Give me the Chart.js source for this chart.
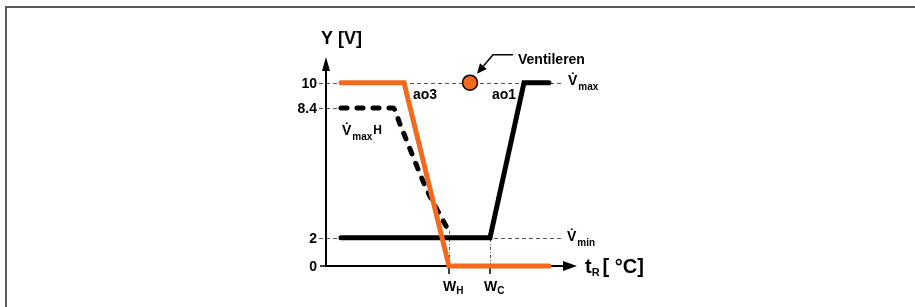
<!DOCTYPE html>
<html>
<head>
<meta charset="utf-8">
<script src="https://cdn.jsdelivr.net/npm/chart.js@4/dist/chart.umd.min.js"></script>
<style>
  html, body { margin: 0; padding: 0; background: #fff; }
  #wrap { position: relative; width: 915px; height: 307px; overflow: hidden; }
  #frame { position: absolute; left: 5px; top: 6px; width: 940px; height: 320px;
           border-top: 2px solid #5a5a5a; border-left: 2px solid #5a5a5a; box-sizing: border-box; }
  canvas { position: absolute; left: 0; top: 0; }
</style>
</head>
<body>
<div id="wrap">
  <div id="frame"></div>
  <canvas id="c" width="915" height="307"></canvas>
</div>
<script>
// ---------- data (schematic units) ----------
const ao3X = [1.5, 7.8, 12.3, 22.3];
const ao3Y = [10, 10, 0, 0];
const vmaxHX = [1.5, 6.7, 7.4, 10.1, 11.2, 12.2];
const vmaxHY = [8.4, 8.4, 7.6, 4.35, 3.3, 2.4];
const ao1X = [1.5, 16.4, 19.8, 22.3];
const ao1Y = [2, 2, 10, 10];
const ventX = [14.4];
const ventY = [10];
const yTickValues = [0, 2, 8.4, 10];
const yTickLabels = ['0', '2', '8.4', '10'];
const xTickValues = [12.3, 16.4];
const xTickMain = ['W', 'W'];
const xTickSub = ['H', 'C'];
const refLineEndX = 23.7;
const seriesNames = ['ao3', 'V\u0307maxH', 'ao1', 'Ventileren'];

// ---------- non-linear (schematic) y scale ----------
const Y_BREAKS = [[0, 0], [2, 0.1354], [8.4, 0.756], [10, 0.877], [11.5, 1]];
function toFrac(v) {
  for (let i = 1; i < Y_BREAKS.length; i++) {
    const [v0, f0] = Y_BREAKS[i - 1], [v1, f1] = Y_BREAKS[i];
    if (v <= v1 || i === Y_BREAKS.length - 1) return f0 + (v - v0) / (v1 - v0) * (f1 - f0);
  }
}
function fromFrac(f) {
  for (let i = 1; i < Y_BREAKS.length; i++) {
    const [v0, f0] = Y_BREAKS[i - 1], [v1, f1] = Y_BREAKS[i];
    if (f <= f1 || i === Y_BREAKS.length - 1) return v0 + (f - f0) / (f1 - f0) * (v1 - v0);
  }
}
class SchematicScale extends Chart.LinearScale {
  getPixelForValue(v) { if (v === null || v === undefined) return NaN; return this.getPixelForDecimal(toFrac(v)); }
  getValueForPixel(p) { return fromFrac(this.getDecimalForPixel(p)); }
}
SchematicScale.id = 'schematic';
SchematicScale.defaults = Chart.LinearScale.defaults;
Chart.register(SchematicScale);

const toPts = (xs, ys) => xs.map((x, i) => ({ x: x, y: ys[i] }));

const ORANGE = '#F26A1B';
const FONT = '"Liberation Sans", Arial, Helvetica, sans-serif';

function txt(ctx, s, x, y, size, align, base) {
  ctx.font = 'bold ' + size + 'px ' + FONT;
  ctx.textAlign = align || 'left';
  ctx.textBaseline = base || 'alphabetic';
  ctx.fillText(s, x, y);
  return x + ctx.measureText(s).width;
}

const decorPlugin = {
  id: 'decor',
  beforeDatasetsDraw(chart) {
    const ctx = chart.ctx, xs = chart.scales.x, ys = chart.scales.y;
    const x0 = xs.getPixelForValue(0), y0 = ys.getPixelForValue(0);
    ctx.save();
    // gray dashed reference lines
    ctx.strokeStyle = '#555';
    ctx.lineWidth = 1;
    ctx.setLineDash([4, 3]);
    const hl = (v, xEnd) => {
      const y = Math.round(ys.getPixelForValue(v)) + 0.5;
      ctx.beginPath(); ctx.moveTo(x0 - 7, y); ctx.lineTo(xs.getPixelForValue(xEnd), y); ctx.stroke();
    };
    hl(10, refLineEndX);
    hl(2, refLineEndX);
    hl(8.4, vmaxHX[0]);
    ctx.setLineDash([3, 2, 1, 2]);
    const vl = (xv, yTop) => {
      const x = Math.round(xs.getPixelForValue(xv)) + 0.5;
      ctx.beginPath(); ctx.moveTo(x, y0); ctx.lineTo(x, ys.getPixelForValue(yTop)); ctx.stroke();
    };
    vl(xTickValues[0], 2.4);
    vl(xTickValues[1], 2);
    ctx.setLineDash([]);
    // axes
    ctx.strokeStyle = '#000';
    ctx.fillStyle = '#000';
    ctx.lineWidth = 2;
    const yTop = chart.chartArea.top, xEnd = chart.chartArea.right + 1;
    ctx.beginPath(); ctx.moveTo(x0, y0 + 1); ctx.lineTo(x0, yTop + 8); ctx.stroke();
    ctx.beginPath(); ctx.moveTo(x0, yTop); ctx.lineTo(x0 - 4, yTop + 14); ctx.lineTo(x0 + 4, yTop + 14); ctx.closePath(); ctx.fill();
    ctx.beginPath(); ctx.moveTo(x0 - 1, y0); ctx.lineTo(xEnd - 8, y0); ctx.stroke();
    ctx.beginPath(); ctx.moveTo(xEnd, y0); ctx.lineTo(xEnd - 14, y0 - 5); ctx.lineTo(xEnd - 14, y0 + 5); ctx.closePath(); ctx.fill();
    // tick marks
    ctx.lineWidth = 1.5;
    ctx.beginPath(); ctx.moveTo(x0 - 6, y0); ctx.lineTo(x0, y0); ctx.stroke();
    xTickValues.forEach(v => {
      const x = xs.getPixelForValue(v);
      ctx.beginPath(); ctx.moveTo(x, y0); ctx.lineTo(x, y0 + 8); ctx.stroke();
    });
    ctx.restore();
  },
  afterDatasetsDraw(chart) {
    const ctx = chart.ctx, xs = chart.scales.x, ys = chart.scales.y;
    const x0 = xs.getPixelForValue(0), y0 = ys.getPixelForValue(0);
    ctx.save();
    ctx.fillStyle = '#000';
    // y tick labels
    yTickValues.forEach((v, i) => txt(ctx, yTickLabels[i], x0 - 9, ys.getPixelForValue(v) + 1, 14, 'right', 'middle'));
    // x tick labels
    xTickValues.forEach((v, i) => {
      const x = xs.getPixelForValue(v) - 6;
      const e = txt(ctx, xTickMain[i], x, y0 + 25, 14);
      txt(ctx, xTickSub[i], e, y0 + 28, 10);
    });
    // axis titles
    txt(ctx, 'Y [V]', x0 - 5, 44, 18);
    let e = txt(ctx, 't', xs.getPixelForValue(25.9), y0 + 7, 20);
    e = txt(ctx, 'R', e, y0 + 10, 11);
    txt(ctx, '[ \u00B0C]', e + 3, y0 + 7, 20);
    // series labels
    const y10 = ys.getPixelForValue(10), y2 = ys.getPixelForValue(2);
    txt(ctx, 'ao3', xs.getPixelForValue(8.7), y10 + 12, 14, 'left', 'middle');
    txt(ctx, 'ao1', xs.getPixelForValue(16.6), y10 + 12, 14, 'left', 'middle');
    // V-dot max / min
    const xv = xs.getPixelForValue(refLineEndX) + 5;
    e = txt(ctx, 'V\u0307', xv, y10 + 2, 14);
    txt(ctx, 'max', e + 1, y10 + 7, 10);
    e = txt(ctx, 'V\u0307', xv - 1, y2 + 3, 14);
    txt(ctx, 'min', e + 1, y2 + 8, 10);
    // V-dot maxH
    const xh = xs.getPixelForValue(1.6), yh = ys.getPixelForValue(8.4) + 27;
    e = txt(ctx, 'V\u0307', xh, yh, 14);
    e = txt(ctx, 'max', e + 1, yh + 5, 10);
    txt(ctx, 'H', e + 1, yh - 1, 12);
    // Ventileren callout
    const cx = xs.getPixelForValue(ventX[0]), cy = ys.getPixelForValue(ventY[0]);
    const tip = [cx + 7, cy - 9], knee = [cx + 23, cy - 28], start = [cx + 43, cy - 28];
    ctx.strokeStyle = '#000'; ctx.lineWidth = 1.5;
    ctx.beginPath(); ctx.moveTo(start[0], start[1]); ctx.lineTo(knee[0], knee[1]);
    const dx = tip[0] - knee[0], dy = tip[1] - knee[1], L = Math.hypot(dx, dy);
    const ux = dx / L, uy = dy / L;
    const bx = tip[0] - ux * 10, by = tip[1] - uy * 10;
    ctx.lineTo(bx, by); ctx.stroke();
    ctx.beginPath(); ctx.moveTo(tip[0], tip[1]);
    ctx.lineTo(bx - uy * 4.5, by + ux * 4.5); ctx.lineTo(bx + uy * 4.5, by - ux * 4.5); ctx.closePath(); ctx.fill();
    txt(ctx, 'Ventileren', start[0] + 5, cy - 23, 14, 'left', 'middle');
    ctx.restore();
  }
};

new Chart(document.getElementById('c'), {
  type: 'line',
  data: {
    datasets: [
      { label: seriesNames[0], data: toPts(ao3X, ao3Y), borderColor: ORANGE, borderWidth: 5,
        borderCapStyle: 'round', borderJoinStyle: 'miter', pointRadius: 0, tension: 0, clip: false },
      { label: seriesNames[1], data: toPts(vmaxHX, vmaxHY), borderColor: '#000', borderWidth: 5,
        borderDash: [6, 10], borderCapStyle: 'round', pointRadius: 0,
        cubicInterpolationMode: 'monotone', clip: false },
      { label: seriesNames[2], data: toPts(ao1X, ao1Y), borderColor: '#000', borderWidth: 5,
        borderCapStyle: 'round', borderJoinStyle: 'miter', pointRadius: 0, tension: 0, clip: false },
      { label: seriesNames[3], data: toPts(ventX, ventY), showLine: false, pointRadius: 7.5,
        pointBackgroundColor: ORANGE, pointBorderColor: '#000', pointBorderWidth: 1.5, clip: false }
    ]
  },
  options: {
    responsive: false,
    animation: false,
    devicePixelRatio: 1,
    layout: { padding: { left: 326, right: 339, top: 57, bottom: 41 } },
    plugins: { legend: { display: false }, tooltip: { enabled: false } },
    events: [],
    scales: {
      x: { type: 'linear', min: 0, max: 25, display: false },
      y: { type: 'schematic', min: 0, max: 11.5, display: false }
    }
  },
  plugins: [decorPlugin]
});
</script>
</body>
</html>
